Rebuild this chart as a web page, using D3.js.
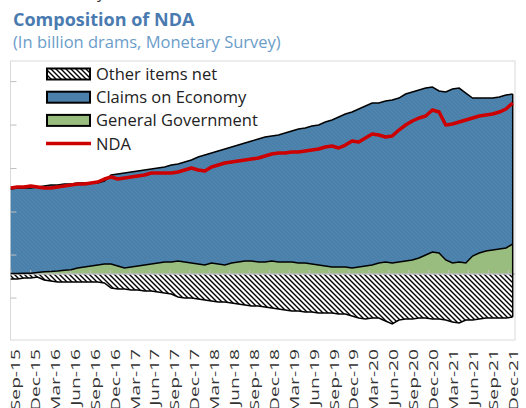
<!DOCTYPE html>
<html>
<head>
<meta charset="utf-8">
<script src="https://cdn.jsdelivr.net/npm/d3@7"></script>
<style>
  body { margin: 0; background: #fff; }
  text { font-family: "Open Sans", sans-serif; }
</style>
</head>
<body>
<div id="chart"></div>
<script>
// monthly categories, Sep-15 .. Dec-21
var months = d3.timeMonths(new Date(2015, 8, 1), new Date(2022, 0, 1)).map(d3.timeFormat("%b-%y"))

// billion drams
var generalGov = [10,12,15,20,35,50,60,70,85,100,
  139,162,185,208,231,231,185,139,162,185,
  208,231,254,277,277,301,277,254,231,208,
  254,231,208,254,277,301,301,277,277,301,
  277,277,277,254,254,231,208,185,162,162,
  162,139,162,185,208,254,277,254,277,301,
  324,370,439,509,486,324,254,277,254,416,
  486,532,555,578,601,694]

var claimsEconomy = [1955,1976,1973,1968,1976,1985,1998,1988,1996,1981,
  1965,1942,1919,1896,1919,2058,2127,2196,2196,2196,
  2196,2196,2196,2196,2243,2243,2312,2381,2474,2543,
  2543,2613,2682,2682,2705,2728,2774,2844,2890,2890,
  2936,2982,3029,3098,3121,3191,3237,3329,3399,3468,
  3537,3607,3653,3699,3745,3699,3722,3769,3792,3861,
  3884,3884,3861,3815,3745,3884,4023,4023,3930,3653,
  3584,3537,3514,3514,3537,3468]

var otherItems = [-116,-116,-92,-92,-69,-139,-162,-185,-185,-185,
  -185,-185,-185,-185,-208,-324,-347,-347,-370,-370,
  -393,-393,-416,-439,-462,-532,-555,-555,-578,-601,
  -624,-647,-647,-670,-694,-717,-740,-740,-763,-786,
  -809,-832,-855,-855,-879,-879,-902,-902,-902,-925,
  -925,-971,-1017,-1040,-1017,-1017,-1087,-1156,-1064,-1040,
  -1040,-1017,-1017,-1040,-1040,-1064,-1110,-1133,-1064,-1064,
  -1040,-1017,-1017,-1017,-1017,-994]

var nda = [1988,2011,2011,2035,2011,1988,1988,2011,2035,2058,
  2081,2081,2104,2127,2196,2243,2196,2220,2243,2266,
  2289,2335,2335,2335,2335,2358,2404,2451,2404,2381,
  2474,2520,2566,2589,2613,2636,2659,2682,2728,2774,
  2798,2798,2821,2821,2844,2867,2890,2936,2959,2913,
  2982,3075,3052,3144,3237,3214,3167,3191,3329,3445,
  3537,3607,3653,3792,3745,3445,3468,3514,3560,3607,
  3653,3676,3699,3745,3815,3954]

// left axis tick marks (unlabelled)
var yTicks = [-545, 450, 1445, 2450, 3455, 4460]

var width = 526, height = 408
var plot = { left: 10.5, right: 515, top: 61, bottom: 340 }

var svg = d3.select("#chart")
  .append("svg")
  .attr("width", width)
  .attr("height", height)

var defs = svg.append("defs")

var hatch = defs.append("pattern")
  .attr("id", "hatch")
  .attr("patternUnits", "userSpaceOnUse")
  .attr("width", 5).attr("height", 5)
hatch.append("rect").attr("width", 5).attr("height", 5).attr("fill", "#fff")
hatch.append("path")
  .attr("d", "M0,0L5,5M-1,4L1,6M4,-1L6,1")
  .attr("stroke", "#000")
  .attr("stroke-width", 1.4)

var blueTex = defs.append("pattern")
  .attr("id", "blueTex")
  .attr("patternUnits", "userSpaceOnUse")
  .attr("width", 4).attr("height", 4)
blueTex.append("rect").attr("width", 4).attr("height", 4).attr("fill", "#4a80aa")
blueTex.append("path")
  .attr("d", "M0,0L4,4M-1,3L1,5M3,-1L5,1")
  .attr("stroke", "#5189b3")
  .attr("stroke-width", 0.8)

var rows = months.map(function(m, i) {
  return { month: m, gg: generalGov[i], ce: claimsEconomy[i], oth: otherItems[i], nda: nda[i] }
})

var xPositionScale = d3.scalePoint()
  .domain(months)
  .range([10.7, 512.7])

// category slots for ticks and labels
var xBandScale = d3.scaleBand()
  .domain(months)
  .range([10.8, 515])

var yPositionScale = d3.scaleLinear()
  .domain([-1526, 4925])
  .range([plot.bottom, plot.top])

var stack = d3.stack()
  .keys(["gg", "ce", "oth"])
  .offset(d3.stackOffsetDiverging)
var layers = stack(rows)

var fills = { gg: "#98bd7e", ce: "url(#blueTex)", oth: "url(#hatch)" }

var area = d3.area()
  .x(function(d) { return xPositionScale(d.data.month) })
  .y0(function(d) { return yPositionScale(d[0]) })
  .y1(function(d) { return yPositionScale(d[1]) })

// plot border
svg.append("rect")
  .attr("x", plot.left).attr("y", plot.top)
  .attr("width", plot.right - plot.left)
  .attr("height", plot.bottom - plot.top)
  .attr("fill", "none")
  .attr("stroke", "#d9d9d9")

svg.selectAll(".layer")
  .data(layers)
  .enter().append("path")
  .attr("class", "layer")
  .attr("d", area)
  .attr("fill", function(d) { return fills[d.key] })

// zero line and category ticks
svg.append("line")
  .attr("x1", plot.left).attr("x2", plot.right)
  .attr("y1", yPositionScale(0)).attr("y2", yPositionScale(0))
  .attr("stroke", "#bfbfbf")
  .attr("stroke-width", 1.5)

var quarters = months.filter(function(m, i) { return i % 3 === 0 })

svg.selectAll(".qtick")
  .data(quarters)
  .enter().append("line")
  .attr("class", "qtick")
  .attr("x1", function(d) { return xBandScale(d) })
  .attr("x2", function(d) { return xBandScale(d) })
  .attr("y1", yPositionScale(0))
  .attr("y2", yPositionScale(0) - 4)
  .attr("stroke", "#bfbfbf")

// outlines
function edge(layerIndex, side) {
  return d3.line()
    .x(function(d) { return xPositionScale(d.data.month) })
    .y(function(d) { return yPositionScale(d[side]) })(layers[layerIndex])
}

svg.append("path").attr("d", edge(0, 1))
  .attr("fill", "none").attr("stroke", "#000").attr("stroke-width", 1.5)
svg.append("path").attr("d", edge(1, 1))
  .attr("fill", "none").attr("stroke", "#000").attr("stroke-width", 1.5)
svg.append("path").attr("d", edge(2, 0))
  .attr("fill", "none").attr("stroke", "#000").attr("stroke-width", 1.5)

var last = rows.length - 1
svg.append("line")
  .attr("x1", xPositionScale(months[last])).attr("x2", xPositionScale(months[last]))
  .attr("y1", yPositionScale(layers[1][last][1]))
  .attr("y2", yPositionScale(layers[2][last][0]))
  .attr("stroke", "#000")
  .attr("stroke-width", 1.5)

// NDA line
var ndaLine = d3.line()
  .x(function(d) { return xPositionScale(d.month) })
  .y(function(d) { return yPositionScale(d.nda) })

svg.append("path")
  .datum(rows)
  .attr("d", ndaLine)
  .attr("fill", "none")
  .attr("stroke", "#cc0000")
  .attr("stroke-width", 3.5)
  .attr("stroke-linejoin", "round")

// left axis, ticks only
var yAxis = d3.axisRight(yPositionScale)
  .tickValues(yTicks)
  .tickSize(6)
  .tickFormat("")
svg.append("g")
  .attr("class", "axis y-axis")
  .attr("transform", "translate(" + plot.left + ",0)")
  .call(yAxis)
svg.selectAll(".y-axis .domain").remove()
svg.selectAll(".y-axis line").attr("stroke", "#bfbfbf")

// bottom labels (the source picture is stretched, so are these)
var xAxis = d3.axisBottom(xBandScale)
  .tickValues(quarters)
  .tickSize(0)
svg.append("g")
  .attr("class", "axis x-axis")
  .attr("transform", "translate(0,349)")
  .call(xAxis)
svg.selectAll(".x-axis .domain").remove()
svg.selectAll(".x-axis text")
  .attr("transform", "rotate(-90) scale(1.6,1)")
  .attr("x", 0)
  .attr("y", 6)
  .attr("dy", 0)
  .style("text-anchor", "end")
  .style("font-family", "Open Sans, sans-serif")
  .style("font-size", "12px")
  .attr("fill", "#333")

// legend
var legendItems = [
  { name: "Other items net", fill: "url(#hatch)" },
  { name: "Claims on Economy", fill: "#4a80aa" },
  { name: "General Government", fill: "#98bd7e" },
  { name: "NDA", fill: null }
]

var legend = svg.selectAll(".legend")
  .data(legendItems)
  .enter().append("g")
  .attr("class", "legend")
  .attr("transform", function(d, i) { return "translate(46," + (74 + i * 23.2) + ")" })

legend.filter(function(d) { return d.fill })
  .append("rect")
  .attr("x", 1).attr("y", -5.5)
  .attr("width", 43).attr("height", 11)
  .attr("fill", function(d) { return d.fill })
  .attr("stroke", "#000")
  .attr("stroke-width", 2)

legend.filter(function(d) { return !d.fill })
  .append("line")
  .attr("x1", 0).attr("x2", 45)
  .attr("stroke", "#cc0000")
  .attr("stroke-width", 3.5)

legend.append("text")
  .attr("x", 50)
  .attr("y", 6)
  .attr("fill", "#222")
  .style("font-size", "16.5px")
  .text(function(d) { return d.name })

// titles
svg.append("text")
  .attr("x", 97).attr("y", -2)
  .attr("fill", "#333")
  .style("font-size", "16px")
  .text("y")

svg.append("text")
  .attr("x", 13).attr("y", 26)
  .attr("fill", "#4a7bb0")
  .style("font-size", "18px")
  .style("font-weight", "bold")
  .text("Composition of NDA")

svg.append("text")
  .attr("x", 13).attr("y", 47.5)
  .attr("fill", "#6b9dc9")
  .style("font-size", "16.5px")
  .text("(In billion drams, Monetary Survey)")
</script>
</body>
</html>
